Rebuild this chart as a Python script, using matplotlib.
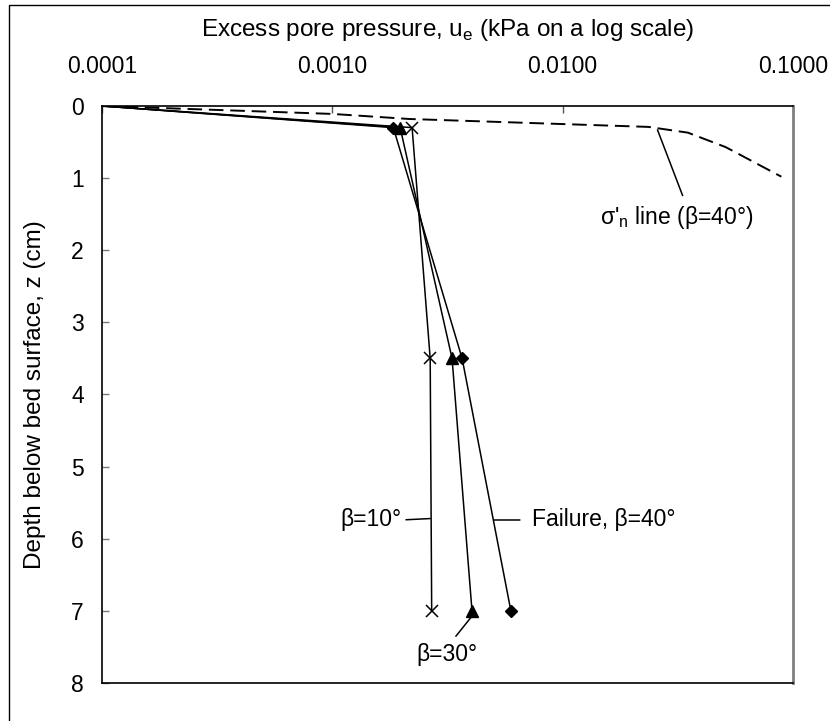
import matplotlib
matplotlib.use("Agg")
import matplotlib.pyplot as plt
import matplotlib.patches as mpatches

plt.rcParams['font.family'] = ['Liberation Sans', 'DejaVu Sans']
plt.rcParams['mathtext.fontset'] = 'custom'
plt.rcParams['mathtext.rm'] = 'Liberation Sans'

# depth below the bed surface (cm)
depth = [0.0, 0.3, 3.5, 7.0]
# excess pore pressure (kPa) for each run
u_fail40 = [0.0001, 0.00184, 0.00366, 0.00596]
u_beta30 = [0.0001, 0.00197, 0.00331, 0.00404]
u_beta10 = [0.0001, 0.00222, 0.00266, 0.00270]

# effective normal stress line for beta = 40 deg
sig_u = [0.0001, 0.0010, 0.00215, 0.0236, 0.035, 0.051, 0.089]
sig_z = [0.0, 0.11, 0.18, 0.29, 0.37, 0.57, 0.98]

x_ticks = [0.0001, 0.001, 0.01, 0.1]
x_tick_labels = ['0.0001', '0.0010', '0.0100', '0.1000']
y_ticks = [0, 1, 2, 3, 4, 5, 6, 7, 8]

fig = plt.figure(figsize=(8.3, 7.21), dpi=100)
ax = fig.add_axes([0.1229, 0.0527, 0.8325, 0.8003])

# outer chart border
fig.patches.append(mpatches.Rectangle((9 / 830, -0.1), 1.2, 1 - 5 / 721 + 0.1,
                                      transform=fig.transFigure, fill=False,
                                      edgecolor='black', linewidth=1.0))

ax.plot(sig_u, sig_z, color='black', linewidth=1.4, dashes=(7.5, 3.5))
pts = slice(1, None)
ax.plot(u_beta10, depth, color='black', linewidth=1.1, marker='x', markersize=8,
        markeredgewidth=1.1, markevery=pts)
ax.plot(u_beta30, depth, color='black', linewidth=1.1, marker='^', markersize=8,
        markevery=pts)
ax.plot(u_fail40, depth, color='black', linewidth=1.1, marker='D', markersize=6,
        markevery=pts)

ax.set_xscale('log')
ax.set_xlim(0.0001, 0.1)
ax.set_ylim(8, 0)
ax.xaxis.tick_top()
ax.xaxis.set_label_position('top')
ax.set_xticks(x_ticks)
ax.set_xticklabels(x_tick_labels)
ax.minorticks_off()
ax.set_yticks(y_ticks)
ax.tick_params(axis='x', direction='in', length=5, width=1, color='#555555',
               labelsize=16.5, pad=20.5)
ax.tick_params(axis='y', direction='in', length=5, width=1, color='#777777',
               labelsize=16.5, pad=13)
ax.set_xlabel('Excess pore pressure, u$_\\mathregular{e}$ (kPa on a log scale)',
              fontsize=17.5, labelpad=13)
ax.set_ylabel('Depth below bed surface, z (cm)', fontsize=17.5, labelpad=18)

for side in ['left', 'top', 'bottom']:
    ax.spines[side].set_linewidth(1.2)
ax.spines['right'].set_color('#808080')
ax.spines['right'].set_linewidth(2)

lead = dict(arrowstyle='-', color='black', linewidth=1.1, shrinkB=0)
ax.annotate('β=10°', xy=(0.00266, 5.72), xytext=(0.00199, 5.74),
            ha='right', va='center', fontsize=16.5,
            arrowprops=dict(lead, relpos=(1, 0.5), shrinkA=1.5))
ax.annotate('Failure, β=40°', xy=(0.00502, 5.74), xytext=(0.00734, 5.74),
            ha='left', va='center', fontsize=16.5,
            arrowprops=dict(lead, relpos=(0, 0.5), shrinkA=6.5))
ax.annotate('β=30°', xy=(0.0040, 7.09), xytext=(0.00315, 7.61),
            ha='center', va='center', fontsize=16.5,
            arrowprops=dict(lead, relpos=(0.55, 1), shrinkA=4))
ax.annotate('σ\'$_\\mathregular{n}$ line (β=40°)', xy=(0.0258, 0.33),
            xytext=(0.0312, 1.54), ha='center', va='center', fontsize=16.5,
            arrowprops=dict(lead, relpos=(0.56, 1), shrinkA=4))

fig.savefig('out.png', dpi=100)
